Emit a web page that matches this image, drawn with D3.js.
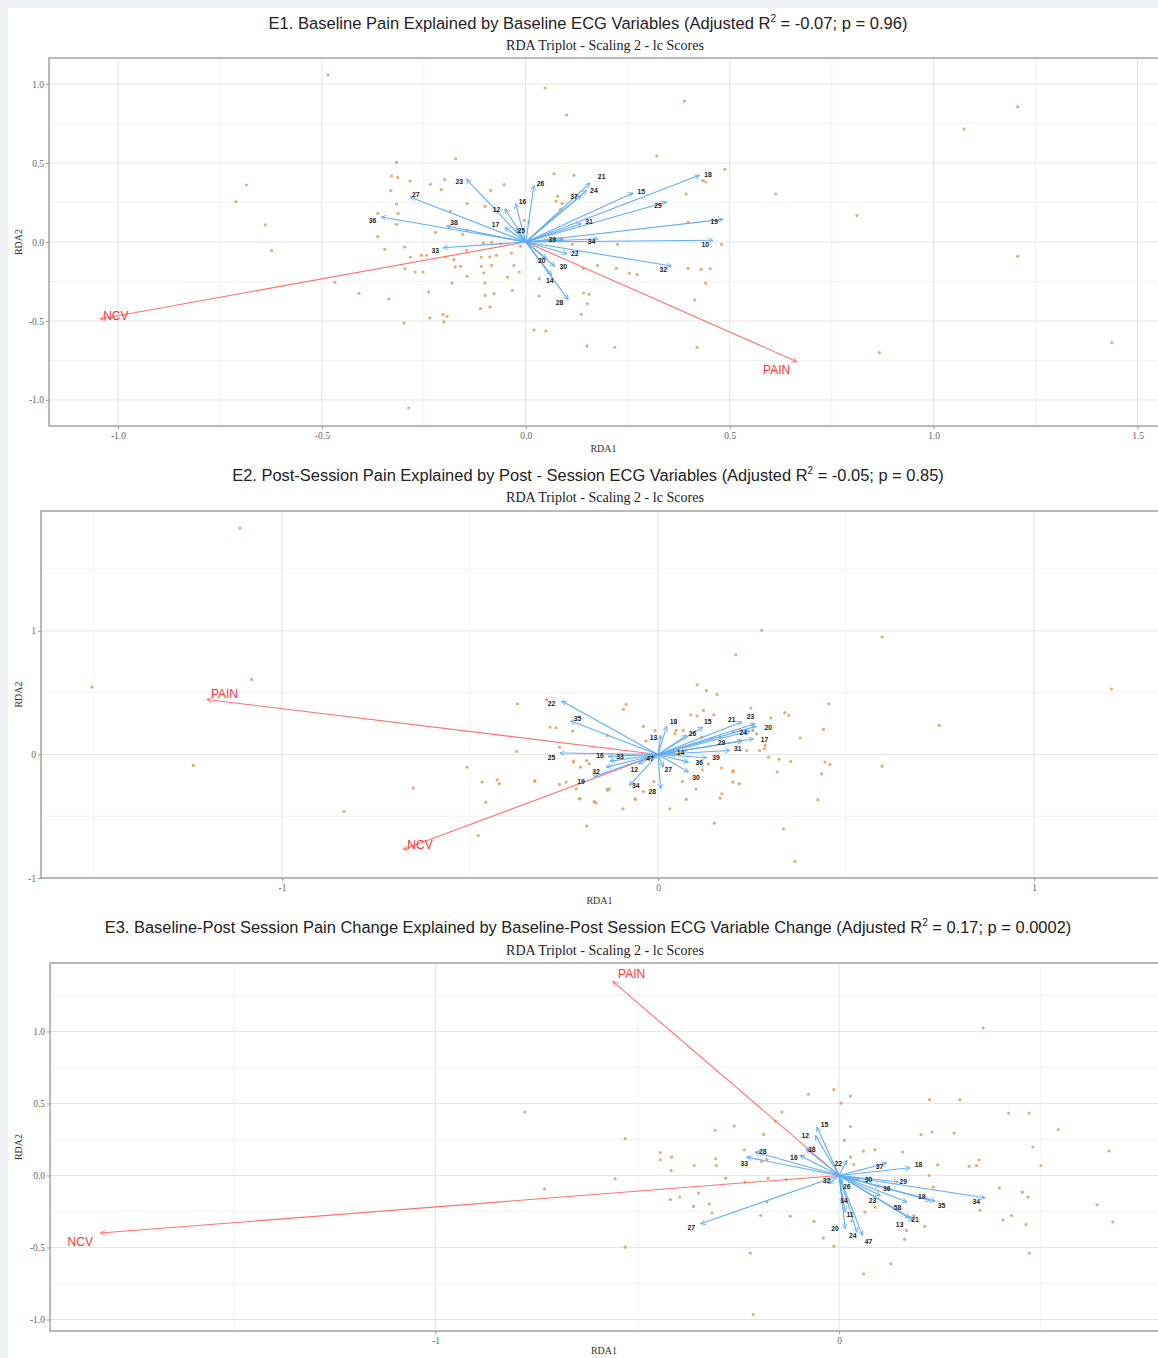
<!DOCTYPE html>
<html>
<head>
<meta charset="utf-8">
<script src="https://cdn.jsdelivr.net/npm/d3@7"></script>
<style>
  body { margin: 0; background: #eef0f3; }
  svg { display: block; }
</style>
</head>
<body>
<svg id="chart"></svg>
<script>
// ---- data (RDA1, RDA2 in plot units) ----
const subtitle = "RDA Triplot - Scaling 2 - lc Scores";

const e1Title = ["E1. Baseline Pain Explained by Baseline ECG Variables (Adjusted R", "2", " = -0.07; p = 0.96)"];
const e2Title = ["E2. Post-Session Pain Explained by Post - Session ECG Variables (Adjusted R", "2", " = -0.05; p = 0.85)"];
const e3Title = ["E3. Baseline-Post Session Pain Change Explained by Baseline-Post Session ECG Variable Change (Adjusted R", "2", " = 0.17; p = 0.0002)"];

const e1XTicks = [-1, -0.5, 0, 0.5, 1, 1.5];
const e1YTicks = [-1, -0.5, 0, 0.5, 1];
const e1XMinor = [-0.75, -0.25, 0.25, 0.75, 1.25];
const e1YMinor = [-0.75, -0.25, 0.25, 0.75];
const e2XTicks = [-1, 0, 1];
const e2YTicks = [-1, 0, 1];
const e2XMinor = [-1.5, -0.5, 0.5];
const e2YMinor = [-0.5, 0.5, 1.5];
const e3XTicks = [-1, 0];
const e3YTicks = [-1, -0.5, 0, 0.5, 1];
const e3XMinor = [-1.5, -0.5, 0.5];
const e3YMinor = [-0.75, -0.25, 0.25, 0.75, 1.25];

// site scores
const e1Points = [
  [-0.485,1.057],[-0.685,0.361],[-0.711,0.255],[-0.639,0.108],[-0.623,-0.055],[-0.468,-0.255],[-0.409,-0.325],
  [-0.336,-0.361],[-0.317,0.504],[-0.329,0.418],[-0.314,0.409],[-0.331,0.325],[-0.317,0.240],[-0.363,0.181],
  [-0.313,0.181],[-0.317,0.112],[-0.363,0.034],[-0.346,-0.046],
  [0.389,0.892],[1.206,0.856],[1.075,0.715],[0.321,0.544],[0.488,0.460],[0.393,0.304],[0.613,0.304],[0.434,0.388],
  [0.441,0.380],[0.812,0.167],[0.398,0.124],[0.225,-0.015],[0.480,-0.015],[1.206,-0.091],[0.222,-0.167],[0.254,-0.198],
  [0.273,-0.205],[0.398,-0.167],[0.430,-0.173],[0.452,-0.169],[0.441,-0.261],[0.414,-0.367],[0.218,-0.667],[0.420,-0.667],
  [0.867,-0.700],[1.437,-0.637],
  [-0.172,0.527],[-0.284,0.386],[-0.234,0.365],[-0.199,0.395],[-0.207,0.331],[-0.144,0.243],[-0.100,0.226],[-0.053,0.363],
  [-0.086,0.327],[0.069,0.432],[0.118,0.422],[0.078,0.289],[0.074,0.259],[0.089,0.243],[0.085,0.205],[-0.004,0.137],
  [0.007,0.127],[-0.185,0.196],[-0.221,0.061],[-0.144,0.074],[-0.155,0.049],[-0.104,-0.006],[-0.084,-0.002],[-0.062,-0.011],
  [-0.297,-0.032],[-0.283,-0.095],[-0.256,-0.084],[-0.243,-0.084],[-0.196,-0.095],[-0.176,-0.112],[-0.145,-0.053],
  [-0.109,-0.095],[-0.088,-0.095],[-0.072,-0.084],[-0.035,-0.070],[-0.013,-0.027],[-0.173,-0.158],[-0.160,-0.154],
  [-0.144,-0.217],[-0.109,-0.154],[-0.103,-0.196],[-0.084,-0.148],[-0.029,-0.148],[-0.271,-0.190],[-0.252,-0.190],
  [-0.296,-0.169],[-0.238,-0.316],[-0.181,-0.259],[-0.100,-0.259],[-0.100,-0.338],[-0.078,-0.327],[-0.045,-0.222],
  [-0.033,-0.306],[-0.016,-0.190],[0.033,-0.232],[0.033,-0.342],[0.142,-0.323],[0.155,-0.331],[0.151,-0.390],[0.136,-0.458],
  [-0.203,-0.458],[-0.193,-0.470],[-0.111,-0.422],[-0.088,-0.411],[0.176,-0.148],[0.141,-0.169],[0.114,-0.015],[0.087,0.021],
  [0.047,0.975],[0.100,0.804],[-0.299,-0.513],[-0.235,-0.481],[-0.201,-0.506],[0.020,-0.557],[0.049,-0.563],[0.150,-0.658],
  [-0.287,-1.051]
];
const e2Points = [
  [-1.112,1.832],[-1.506,0.545],[-1.081,0.607],[-1.236,-0.089],[-0.835,-0.462],[-0.651,-0.273],[-0.508,-0.103],[-0.468,-0.224],
  [-0.458,-0.386],[-0.428,-0.205],[-0.422,-0.237],[-0.328,-0.219],[-0.478,-0.656],[-0.374,0.410],[-0.296,0.443],[-0.287,0.221],
  [-0.271,0.216],[-0.227,0.189],[-0.376,0.024],[-0.262,0.059],[-0.225,-0.062],[-0.262,-0.243],[-0.245,-0.224],[-0.218,-0.278],
  [-0.210,-0.359],
  [0.276,1.004],[0.596,0.950],[0.207,0.807],[1.206,0.529],[0.748,0.235],[0.596,-0.095],[0.454,0.410],[0.104,0.564],[0.129,0.518],
  [0.157,0.486],[-0.085,0.405],[-0.092,0.364],[0.087,0.321],[0.104,0.310],[0.121,0.356],[0.148,0.321],[0.247,0.375],[0.300,0.294],
  [0.337,0.338],[0.348,0.316],[0.440,0.202],[0.378,0.135],[0.294,-0.022],[0.322,-0.040],[0.353,-0.057],[0.444,-0.062],[0.457,-0.081],
  [0.435,-0.157],[0.317,-0.143],[0.199,-0.143],[0.199,-0.224],[0.216,-0.237],[0.170,-0.318],[0.165,-0.354],[0.101,-0.278],
  [0.075,-0.364],[0.425,-0.367],[0.031,-0.440],[-0.060,-0.364],[-0.093,-0.440],[0.150,-0.556],[0.334,-0.602],[0.364,-0.866],
  [-0.190,-0.580],[-0.134,-0.292],[-0.168,-0.386],
  [-0.135,0.154],[-0.039,0.227],[-0.032,0.108],[-0.008,0.194],[0.045,0.167],[-0.225,-0.054],[-0.190,-0.049],[-0.183,-0.076],
  [-0.206,-0.103],[-0.327,-0.211],[-0.207,-0.359],[-0.170,-0.381],[-0.165,-0.394],[-0.135,-0.281],[-0.129,-0.278],[-0.061,-0.359],
  [-0.039,-0.300],[-0.011,-0.219],[0.065,-0.219],[0.118,-0.124],[0.134,-0.076],[0.169,-0.108],[0.200,-0.130],[0.074,0.032],
  [0.116,0.140],[0.143,0.127],[0.165,0.140],[0.200,0.181],[0.218,0.113],[0.236,0.032],[0.270,0.032],[0.285,0.073],[0.283,0.046],
  [0.262,0.167],[0.252,0.194],[0.048,0.194],[0.067,0.194]
];
const e3Points = [
  [0.357,1.025],[-0.076,0.563],[-0.013,0.597],[0.005,0.502],[0.028,0.551],[-0.142,0.440],[-0.158,0.377],[0.224,0.526],[0.299,0.526],
  [0.420,0.433],[0.471,0.433],[0.543,0.319],[0.669,0.169],[0.480,0.197],[0.500,0.069],[0.347,0.109],[0.340,0.069],[0.322,0.063],
  [0.244,0.074],[0.223,0.0],[0.203,0.283],[0.230,0.301],[0.285,0.294],[0.157,0.162],[0.089,0.178],[0.060,0.169],[0.028,0.340],
  [0.013,0.243],[0.028,0.127],[0.397,-0.086],[0.454,-0.116],[0.468,-0.150],[0.406,-0.308],[0.427,-0.278],[0.463,-0.340],
  [0.349,-0.243],[0.471,-0.539],[0.639,-0.204],[0.678,-0.324],[0.233,-0.081],[0.212,-0.354],[0.167,-0.382],[0.162,-0.444],
  [0.185,-0.278],[0.089,-0.220],[0.064,-0.255],[0.030,-0.317],[-0.039,-0.435],[-0.013,-0.491],[0.128,-0.613],[0.061,-0.683],
  [-0.062,-0.319],[-0.121,-0.283],[-0.194,-0.278],[-0.179,-0.185],[-0.220,-0.539],[-0.213,-0.967],[-0.530,0.255],[-0.530,-0.498],
  [-0.555,-0.023],[-0.443,0.158],[-0.443,0.109],[-0.415,0.127],[-0.416,0.035],[-0.359,0.069],[-0.306,0.116],[-0.304,0.069],
  [-0.307,0.313],[-0.260,0.343],[-0.187,0.285],[-0.235,0.178],[-0.281,-0.019],[-0.233,-0.046],[-0.176,-0.019],[-0.418,-0.167],
  [-0.395,-0.150],[-0.348,-0.123],[-0.361,-0.215],[-0.322,-0.197],[-0.315,-0.259],[-0.779,0.440],[-0.730,-0.093],
  [-0.131,-0.028],[-0.192,0.097],[-0.179,0.111],[0.036,0.076]
];

// ECG variable arrows: [label, tipX, tipY, labelX, labelY]
const e1Vars = [
  ["23",-0.145,0.397,-0.163,0.380],["27",-0.284,0.285,-0.270,0.302],["36",-0.354,0.158,-0.376,0.133],
  ["38",-0.194,0.101,-0.176,0.120],["33",-0.203,-0.036,-0.222,-0.057],["17",-0.051,0.091,-0.074,0.112],
  ["12",-0.051,0.211,-0.072,0.205],["16",-0.025,0.243,-0.008,0.255],["26",0.020,0.359,0.036,0.369],
  ["25",-0.023,0.084,-0.011,0.074],["21",0.157,0.373,0.186,0.411],["24",0.149,0.327,0.167,0.327],
  ["37",0.136,0.295,0.118,0.285],["15",0.263,0.310,0.283,0.321],["18",0.426,0.422,0.447,0.428],
  ["29",0.345,0.253,0.324,0.232],["31",0.136,0.116,0.155,0.127],["19",0.484,0.143,0.462,0.131],
  ["10",0.459,0.011,0.440,-0.017],["34",0.177,0.021,0.161,0.0],["39",0.092,0.015,0.065,0.015],
  ["22",0.101,-0.074,0.120,-0.074],["32",0.357,-0.152,0.337,-0.173],["20",0.051,-0.105,0.039,-0.116],
  ["30",0.071,-0.154,0.092,-0.158],["14",0.063,-0.211,0.059,-0.243],["28",0.104,-0.365,0.083,-0.386]
];
const e2Vars = [
  ["22",-0.256,0.432,-0.283,0.410],["35",-0.232,0.270,-0.214,0.289],["25",-0.261,0.011,-0.283,-0.027],
  ["16",-0.132,-0.016,-0.154,-0.008],["33",-0.128,-0.054,-0.101,-0.016],["32",-0.138,-0.103,-0.165,-0.143],
  ["19",-0.170,-0.178,-0.205,-0.219],["12",-0.052,-0.076,-0.063,-0.124],["34",-0.076,-0.251,-0.059,-0.251],
  ["28",0.007,-0.278,-0.015,-0.305],["27",0.014,-0.103,0.027,-0.121],["47",-0.017,-0.027,-0.021,-0.035],
  ["13",0.007,0.154,-0.012,0.140],["18",0.023,0.227,0.041,0.262],["15",0.119,0.221,0.132,0.262],
  ["26",0.076,0.154,0.092,0.167],["21",0.223,0.262,0.196,0.281],["23",0.258,0.248,0.246,0.308],
  ["20",0.261,0.227,0.293,0.216],["24",0.245,0.189,0.227,0.173],["17",0.254,0.127,0.283,0.119],
  ["29",0.223,0.108,0.169,0.092],["31",0.191,0.032,0.212,0.043],["14",0.050,0.005,0.060,0.011],
  ["36",0.081,-0.062,0.110,-0.070],["39",0.129,-0.027,0.154,-0.027],["30",0.081,-0.143,0.101,-0.189]
];
const e3Vars = [
  ["15",-0.055,0.336,-0.036,0.354],["12",-0.059,0.278,-0.084,0.278],["38",-0.082,0.185,-0.068,0.178],
  ["16",-0.097,0.139,-0.112,0.127],["28",-0.208,0.162,-0.189,0.162],["33",-0.229,0.127,-0.235,0.081],
  ["27",-0.343,-0.336,-0.366,-0.359],["32",-0.026,-0.058,-0.031,-0.035],["22",0.019,0.104,-0.002,0.081],
  ["37",0.118,0.086,0.100,0.058],["18",0.176,0.053,0.197,0.076],["30",0.048,-0.030,0.073,-0.028],
  ["29",0.147,-0.046,0.159,-0.042],["36",0.102,-0.076,0.118,-0.093],["19",0.226,-0.174,0.205,-0.144],
  ["26",0.007,-0.058,0.019,-0.081],["34",0.362,-0.155,0.340,-0.185],["35",0.238,-0.178,0.254,-0.208],
  ["23",0.102,-0.139,0.083,-0.178],["58",0.168,-0.185,0.145,-0.220],["14",0.009,-0.197,0.012,-0.178],
  ["11",0.015,-0.255,0.027,-0.273],["20",0.015,-0.370,-0.010,-0.370],["24",0.044,-0.394,0.034,-0.421],
  ["47",0.058,-0.417,0.073,-0.458],["13",0.184,-0.313,0.150,-0.340],["21",0.176,-0.294,0.188,-0.308]
];

// response arrows: [label, tipX, tipY, labelX, labelY]
const e1Resp = [["NCV",-1.044,-0.487,-1.005,-0.468],["PAIN",0.665,-0.758,0.615,-0.810]];
const e2Resp = [["PAIN",-1.20,0.445,-1.153,0.494],["NCV",-0.678,-0.770,-0.633,-0.729]];
const e3Resp = [["NCV",-1.83,-0.40,-1.880,-0.458],["PAIN",-0.561,1.347,-0.514,1.403]];

// ---- layout / styles ----
const W = 1158, H = 1358;
const BLUE = "#62adf4", RED = "#ff7070", RED_TEXT = "#ff3333", DOT = "#dca468";
const GRID_MAJOR = "#e4e4e4", GRID_MINOR = "#f2f2f2", BORDER = "#a8a8a8";

const panels = [
  { title: e1Title, titleW: 640, titleY: 29, subY: 50, left: 49, right: 1160, top: 58, bottom: 426,
    xDomain: [-1.169, 1.555], yDomain: [-1.165, 1.165],
    xTicks: e1XTicks, yTicks: e1YTicks, xMinor: e1XMinor, yMinor: e1YMinor, fmt: d => d.toFixed(1),
    points: e1Points, vars: e1Vars, resp: e1Resp },
  { title: e2Title, titleW: 712, titleY: 481, subY: 502, left: 41, right: 1160, top: 511, bottom: 878,
    xDomain: [-1.641, 1.335], yDomain: [-1.0, 1.97],
    xTicks: e2XTicks, yTicks: e2YTicks, xMinor: e2XMinor, yMinor: e2YMinor, fmt: d => String(d),
    points: e2Points, vars: e2Vars, resp: e2Resp },
  { title: e3Title, titleW: 968, titleY: 933, subY: 955, left: 50, right: 1160, top: 963, bottom: 1331,
    xDomain: [-1.955, 0.795], yDomain: [-1.08, 1.475],
    xTicks: e3XTicks, yTicks: e3YTicks, xMinor: e3XMinor, yMinor: e3YMinor, fmt: d => d.toFixed(1),
    points: e3Points, vars: e3Vars, resp: e3Resp, xFmt: d => String(d) }
];

const svg = d3.select("#chart").attr("width", W).attr("height", H);
svg.append("rect").attr("width", W).attr("height", H).attr("fill", "#eef0f3");
svg.append("rect").attr("x", 8).attr("y", 8).attr("width", W - 8).attr("height", H - 8).attr("fill", "#ffffff");

const defs = svg.append("defs");
function addHead(id, color) {
  defs.append("marker")
    .attr("id", id)
    .attr("viewBox", "0 0 10 10")
    .attr("refX", 9).attr("refY", 5)
    .attr("markerWidth", 6).attr("markerHeight", 6)
    .attr("markerUnits", "userSpaceOnUse")
    .attr("orient", "auto")
    .append("path")
    .attr("d", "M1,1 L9,5 L1,9")
    .attr("fill", "none")
    .attr("stroke", color)
    .attr("stroke-width", 1.4);
}
addHead("headBlue", BLUE);
addHead("headRed", RED);

// scale a text's font so it spans the width seen in the figure
function fitWidth(sel, size, target) {
  const w = sel.node().getComputedTextLength();
  if (w > 0) sel.style("font-size", (size * target / w).toFixed(2) + "px");
}

panels.forEach((p, i) => {
  const x = d3.scaleLinear().domain(p.xDomain).range([p.left, p.right]);
  const y = d3.scaleLinear().domain(p.yDomain).range([p.bottom, p.top]);
  const g = svg.append("g");

  defs.append("clipPath").attr("id", "clip" + i)
    .append("rect")
    .attr("x", p.left).attr("y", p.top)
    .attr("width", p.right - p.left).attr("height", p.bottom - p.top);

  // titles
  const t = g.append("text")
    .attr("x", 588).attr("y", p.titleY)
    .attr("text-anchor", "middle")
    .style("font-family", "'Liberation Sans', Arial, sans-serif")
    .style("font-size", "15px")
    .attr("fill", "#222");
  t.append("tspan").text(p.title[0]);
  t.append("tspan").attr("dy", -7).style("font-size", "10px").text(p.title[1]);
  t.append("tspan").attr("dy", 7).text(p.title[2]);
  fitWidth(t, 15, p.titleW);

  const st = g.append("text")
    .attr("x", 605).attr("y", p.subY)
    .attr("text-anchor", "middle")
    .style("font-family", "'Liberation Serif', 'Times New Roman', serif")
    .style("font-size", "12px")
    .attr("fill", "#222")
    .text(subtitle);
  fitWidth(st, 12, 198);

  // grid
  const grid = g.append("g");
  grid.selectAll("line.xm").data(p.xMinor).enter().append("line")
    .attr("x1", d => x(d)).attr("x2", d => x(d)).attr("y1", p.top).attr("y2", p.bottom)
    .attr("stroke", GRID_MINOR).attr("stroke-width", 1);
  grid.selectAll("line.ym").data(p.yMinor).enter().append("line")
    .attr("y1", d => y(d)).attr("y2", d => y(d)).attr("x1", p.left).attr("x2", p.right)
    .attr("stroke", GRID_MINOR).attr("stroke-width", 1);
  grid.selectAll("line.xM").data(p.xTicks).enter().append("line")
    .attr("x1", d => x(d)).attr("x2", d => x(d)).attr("y1", p.top).attr("y2", p.bottom)
    .attr("stroke", GRID_MAJOR).attr("stroke-width", 1);
  grid.selectAll("line.yM").data(p.yTicks).enter().append("line")
    .attr("y1", d => y(d)).attr("y2", d => y(d)).attr("x1", p.left).attr("x2", p.right)
    .attr("stroke", GRID_MAJOR).attr("stroke-width", 1);

  const plot = g.append("g").attr("clip-path", `url(#clip${i})`);

  // site points
  plot.selectAll("circle").data(p.points).enter().append("circle")
    .attr("cx", d => x(d[0])).attr("cy", d => y(d[1]))
    .attr("r", 1.6).attr("fill", DOT).attr("opacity", 0.9);

  // response arrows
  plot.selectAll("line.resp").data(p.resp).enter().append("line")
    .attr("x1", x(0)).attr("y1", y(0))
    .attr("x2", d => x(d[1])).attr("y2", d => y(d[2]))
    .attr("stroke", RED).attr("stroke-width", 1.1)
    .attr("marker-end", "url(#headRed)");

  // variable arrows
  plot.selectAll("line.var").data(p.vars).enter().append("line")
    .attr("x1", x(0)).attr("y1", y(0))
    .attr("x2", d => x(d[1])).attr("y2", d => y(d[2]))
    .attr("stroke", BLUE).attr("stroke-width", 1.1)
    .attr("marker-end", "url(#headBlue)");

  plot.selectAll("text.var").data(p.vars).enter().append("text")
    .attr("x", d => x(d[3])).attr("y", d => y(d[4]))
    .attr("dy", "0.35em")
    .attr("text-anchor", "middle")
    .style("font-family", "'Liberation Sans', Arial, sans-serif")
    .style("font-size", "6.8px")
    .style("font-weight", "bold")
    .attr("fill", "#222")
    .text(d => d[0]);

  plot.selectAll("text.resp").data(p.resp).enter().append("text")
    .attr("x", d => x(d[3])).attr("y", d => y(d[4]))
    .attr("dy", "0.35em")
    .attr("text-anchor", "middle")
    .style("font-family", "'Liberation Sans', Arial, sans-serif")
    .style("font-size", "12px")
    .attr("fill", RED_TEXT)
    .text(d => d[0]);

  // border
  g.append("rect")
    .attr("x", p.left).attr("y", p.top)
    .attr("width", p.right - p.left).attr("height", p.bottom - p.top)
    .attr("fill", "none").attr("stroke", BORDER).attr("stroke-width", 1.6);

  // axes
  const xAxis = g.append("g").attr("transform", `translate(0,${p.bottom})`)
    .call(d3.axisBottom(x).tickValues(p.xTicks).tickFormat(p.xFmt || p.fmt).tickSize(3).tickPadding(3));
  const yAxis = g.append("g").attr("transform", `translate(${p.left},0)`)
    .call(d3.axisLeft(y).tickValues(p.yTicks).tickFormat(p.fmt).tickSize(3).tickPadding(2));
  [xAxis, yAxis].forEach(a => {
    a.select(".domain").remove();
    a.selectAll("line").attr("stroke", "#999");
    a.selectAll("text")
      .style("font-family", "'Liberation Serif', 'Times New Roman', serif")
      .style("font-size", "9.5px")
      .attr("fill", "#666");
  });

  g.append("text")
    .attr("x", (p.left + 1158) / 2).attr("y", Math.min(p.bottom + 26, H - 4))
    .attr("text-anchor", "middle")
    .style("font-family", "'Liberation Serif', 'Times New Roman', serif")
    .style("font-size", "10px")
    .attr("fill", "#333")
    .text("RDA1");

  g.append("text")
    .attr("transform", `translate(22,${(p.top + p.bottom) / 2}) rotate(-90)`)
    .attr("text-anchor", "middle")
    .style("font-family", "'Liberation Serif', 'Times New Roman', serif")
    .style("font-size", "10px")
    .attr("fill", "#333")
    .text("RDA2");
});
</script>
</body>
</html>
